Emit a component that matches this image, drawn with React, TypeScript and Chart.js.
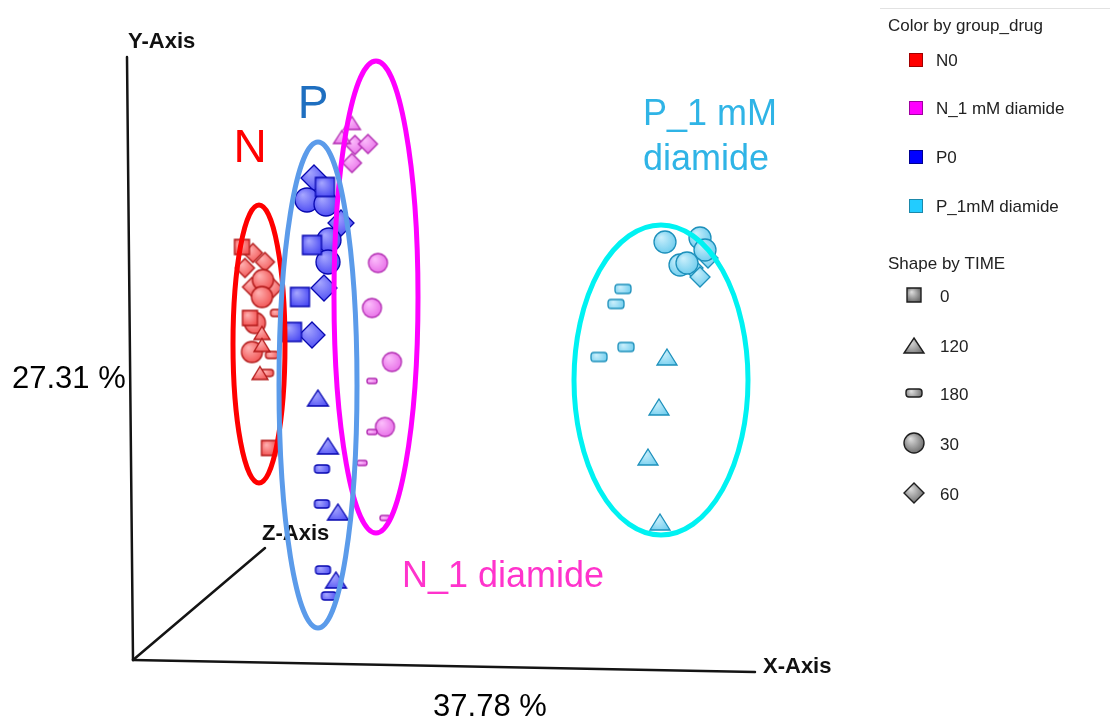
import React, { useEffect, useRef } from 'react';
import { Chart, registerables } from 'chart.js';

Chart.register(...registerables);

// ---- categories ----
const groupNames = ['N0', 'N_1 mM diamide', 'P0', 'P_1mM diamide'];
const timeNames = ['0', '120', '180', '30', '60'];

// ---- PCA scores [PC1, PC2] ----
const N0_T0 = [[10.9, 41.3], [11.7, 34.2], [13.6, 21.2]];
const N0_T120 = [[12.9, 32.7], [12.9, 31.5], [12.7, 28.7]];
const N0_T180 = [[14.4, 34.7], [13.9, 30.5], [13.4, 28.7]];
const N0_T30 = [[13.0, 38.0], [12.9, 36.3], [12.2, 33.7], [11.9, 30.8]];
const N0_T60 = [[12.0, 40.7], [13.2, 39.8], [11.2, 39.2], [11.9, 37.3], [14.0, 37.2]];

const N1_T0: number[][] = [];
const N1_T120 = [[21.9, 53.7], [20.9, 52.3]];
const N1_T180 = [[23.9, 27.9], [23.9, 22.8], [22.9, 19.7], [25.2, 14.2]];
const N1_T30 = [[24.5, 39.7], [23.9, 35.2], [25.9, 29.8], [25.2, 23.3]];
const N1_T60 = [[22.2, 51.5], [23.5, 51.6], [21.9, 49.7]];

const P0_T0 = [[19.2, 47.3], [17.9, 41.5], [16.7, 36.3], [15.9, 32.8]];
const P0_T120 = [[18.5, 26.2], [19.5, 21.4], [20.5, 14.8], [20.3, 8.0]];
const P0_T180 = [[18.9, 19.1], [18.9, 15.6], [19.0, 9.0], [19.6, 6.4]];
const P0_T30 = [[17.4, 46.0], [19.3, 45.6], [19.6, 42.0], [19.5, 39.8]];
const P0_T60 = [[18.1, 48.2], [20.8, 43.7], [19.1, 37.2], [17.9, 32.5]];

const P1_T0: number[][] = [];
const P1_T120 = [[53.4, 30.3], [52.6, 25.3], [51.5, 20.3], [52.7, 13.8]];
const P1_T180 = [[49.0, 37.1], [48.3, 35.6], [49.3, 31.3], [46.6, 30.3]];
const P1_T30 = [[53.2, 41.8], [56.7, 42.2], [57.2, 41.0], [54.7, 39.5], [55.4, 39.7]];
const P1_T60 = [[56.0, 39.2], [57.5, 40.2], [56.7, 38.3]];

const seriesByGroup = [
  [N0_T0, N0_T120, N0_T180, N0_T30, N0_T60],
  [N1_T0, N1_T120, N1_T180, N1_T30, N1_T60],
  [P0_T0, P0_T120, P0_T180, P0_T30, P0_T60],
  [P1_T0, P1_T120, P1_T180, P1_T30, P1_T60],
];

// ---- styles ----
const groupColors = [
  { light: '#ffb4b4', base: '#ee3a3a', border: '#b01818', swatch: '#ff0000', swBorder: '#a00000' },
  { light: '#fcc0fc', base: '#e35ae3', border: '#b02ab0', swatch: '#ff00ff', swBorder: '#a000a0' },
  { light: '#a8a8ff', base: '#3434f0', border: '#0808b0', swatch: '#0000ff', swBorder: '#000090' },
  { light: '#cdf0fc', base: '#55c3ea', border: '#1d90bb', swatch: '#22ccff', swBorder: '#1b88aa' },
];
const timeShapes = ['square', 'triangle', 'rect', 'circle', 'diamond'];
// marker sizes [w, h] per group per time (depth effect of the 3D view)
const markerSizes = [
  [[15, 15], [16, 13], [13, 7], [21, 21], [19, 19]],
  [[14, 14], [17, 13], [10, 5], [19, 19], [19, 19]],
  [[19, 19], [21, 16], [15, 8], [24, 24], [26, 26]],
  [[16, 16], [20, 16], [16, 9], [22, 22], [20, 20]],
];

// annotations (data units)
const ellipses = [
  { cx: 12.6, cy: 31.6, rx: 2.6, ry: 13.9, color: '#ff0000' },
  { cx: 24.3, cy: 36.3, rx: 4.2, ry: 23.6, color: '#ff00ff' },
  { cx: 18.5, cy: 27.5, rx: 3.9, ry: 24.3, color: '#5b9bea' },
  { cx: 52.8, cy: 28.0, rx: 8.7, ry: 15.5, color: '#00f2f2' },
];
const groupLabels = [
  { text: 'N', x: 11.7, y: 49.8, color: '#ff0000', size: 46, align: 'center' },
  { text: 'P', x: 18.0, y: 54.2, color: '#1f6fc0', size: 46, align: 'center' },
  { text: 'P_1 mM', x: 51.0, y: 53.5, color: '#2fb4e6', size: 36, align: 'left' },
  { text: 'diamide', x: 51.0, y: 49.0, color: '#2fb4e6', size: 36, align: 'left' },
  { text: 'N_1 diamide', x: 37.0, y: 7.3, color: '#ff33cc', size: 36, align: 'center' },
];
const axisOrigin = [0, 0];
const axisEnds = { y: [-0.6, 60.3], x: [62.2, -1.2], z: [13.2, 11.2] };

function makeMarker(shape: string, w: number, h: number, col: any, lw = 1.3) {
  const pad = 2;
  const c = document.createElement('canvas');
  c.width = Math.ceil(w + pad * 2);
  c.height = Math.ceil(h + pad * 2);
  const ctx = c.getContext('2d')!;
  const cx = c.width / 2;
  const cy = c.height / 2;
  ctx.beginPath();
  if (shape === 'square') {
    ctx.rect(cx - w / 2, cy - h / 2, w, h);
  } else if (shape === 'rect') {
    const r = Math.min(h / 2.4, 3);
    const x0 = cx - w / 2, y0 = cy - h / 2;
    ctx.moveTo(x0 + r, y0);
    ctx.lineTo(x0 + w - r, y0);
    ctx.quadraticCurveTo(x0 + w, y0, x0 + w, y0 + r);
    ctx.lineTo(x0 + w, y0 + h - r);
    ctx.quadraticCurveTo(x0 + w, y0 + h, x0 + w - r, y0 + h);
    ctx.lineTo(x0 + r, y0 + h);
    ctx.quadraticCurveTo(x0, y0 + h, x0, y0 + h - r);
    ctx.lineTo(x0, y0 + r);
    ctx.quadraticCurveTo(x0, y0, x0 + r, y0);
    ctx.closePath();
  } else if (shape === 'circle') {
    ctx.arc(cx, cy, w / 2, 0, Math.PI * 2);
  } else if (shape === 'diamond') {
    ctx.moveTo(cx, cy - h / 2);
    ctx.lineTo(cx + w / 2, cy);
    ctx.lineTo(cx, cy + h / 2);
    ctx.lineTo(cx - w / 2, cy);
    ctx.closePath();
  } else {
    ctx.moveTo(cx, cy - h / 2);
    ctx.lineTo(cx + w / 2, cy + h / 2);
    ctx.lineTo(cx - w / 2, cy + h / 2);
    ctx.closePath();
  }
  const g = ctx.createRadialGradient(cx - w * 0.18, cy - h * 0.22, 0, cx, cy, Math.max(w, h) * 0.75);
  g.addColorStop(0, col.light);
  g.addColorStop(1, col.base);
  ctx.fillStyle = g;
  ctx.fill();
  ctx.lineWidth = lw;
  ctx.strokeStyle = col.border;
  ctx.stroke();
  return c;
}

const decorPlugin = {
  id: 'decor',
  beforeDatasetsDraw(chart: any) {
    const { ctx, scales } = chart;
    const xs = scales.x, ys = scales.y;
    const P = (p: number[]) => [xs.getPixelForValue(p[0]), ys.getPixelForValue(p[1])];
    ctx.save();
    ctx.strokeStyle = '#141414';
    ctx.lineWidth = 2.5;
    ctx.lineCap = 'round';
    const o = P(axisOrigin);
    [axisEnds.y, axisEnds.x, axisEnds.z].forEach((e) => {
      const q = P(e);
      ctx.beginPath();
      ctx.moveTo(o[0], o[1]);
      ctx.lineTo(q[0], q[1]);
      ctx.stroke();
    });
    // axis titles
    ctx.fillStyle = '#111';
    ctx.font = 'bold 22px "Liberation Sans", Arial, sans-serif';
    ctx.textAlign = 'left';
    ctx.textBaseline = 'alphabetic';
    ctx.fillText('Y-Axis', 128, 48);
    ctx.fillText('Z-Axis', 262, 540);
    ctx.fillText('X-Axis', 763, 673);
    ctx.font = '31px "Liberation Sans", Arial, sans-serif';
    ctx.fillStyle = '#000';
    ctx.fillText('27.31 %', 12, 388);
    ctx.textAlign = 'center';
    ctx.fillText('37.78 %', 490, 716);
    ctx.restore();
  },
  afterDatasetsDraw(chart: any) {
    const { ctx, scales } = chart;
    const xs = scales.x, ys = scales.y;
    ctx.save();
    ellipses.forEach((e) => {
      const cx = xs.getPixelForValue(e.cx);
      const cy = ys.getPixelForValue(e.cy);
      const rx = Math.abs(xs.getPixelForValue(e.cx + e.rx) - cx);
      const ry = Math.abs(ys.getPixelForValue(e.cy + e.ry) - cy);
      ctx.beginPath();
      ctx.ellipse(cx, cy, rx, ry, 0, 0, Math.PI * 2);
      ctx.strokeStyle = e.color;
      ctx.lineWidth = 5;
      ctx.stroke();
    });
    groupLabels.forEach((l) => {
      ctx.font = l.size + 'px "Liberation Sans", Arial, sans-serif';
      ctx.fillStyle = l.color;
      ctx.textAlign = l.align;
      ctx.textBaseline = 'alphabetic';
      ctx.fillText(l.text, xs.getPixelForValue(l.x), ys.getPixelForValue(l.y));
    });
    ctx.restore();
  },
  afterDraw(chart: any) {
    const { ctx } = chart;
    ctx.save();
    // legend box top line
    ctx.strokeStyle = '#e2e2e2';
    ctx.lineWidth = 1;
    ctx.beginPath();
    ctx.moveTo(880, 8.5);
    ctx.lineTo(1110, 8.5);
    ctx.stroke();
    ctx.fillStyle = '#222';
    ctx.font = '17px "Liberation Sans", Arial, sans-serif';
    ctx.textAlign = 'left';
    ctx.textBaseline = 'alphabetic';
    ctx.fillText('Color by group_drug', 888, 31);
    const swY = [60, 108, 157, 206];
    groupNames.forEach((n, i) => {
      const c = groupColors[i];
      ctx.fillStyle = c.swatch;
      ctx.fillRect(909, swY[i] - 7, 14, 14);
      ctx.strokeStyle = c.swBorder;
      ctx.lineWidth = 1;
      ctx.strokeRect(909.5, swY[i] - 6.5, 13, 13);
      ctx.fillStyle = '#222';
      ctx.fillText(n, 936, swY[i] + 6);
    });
    ctx.fillText('Shape by TIME', 888, 269);
    const grey = { light: '#e0e0e0', base: '#4a4a4a', border: '#1e1e1e' };
    const legSizes = [[14, 14], [20, 15], [16, 8], [20, 20], [20, 20]];
    const shY = [295, 345, 393, 443, 493];
    timeNames.forEach((t, i) => {
      const m = makeMarker(timeShapes[i], legSizes[i][0], legSizes[i][1], grey, 1.4);
      ctx.drawImage(m, Math.round(914 - m.width / 2), Math.round(shY[i] - m.height / 2));
      ctx.fillStyle = '#222';
      ctx.fillText(t, 940, shY[i] + 7);
    });
    ctx.restore();
  },
};

export default function App() {
  const ref = useRef<HTMLCanvasElement | null>(null);
  useEffect(() => {
    if (!ref.current) return;
    const datasets: any[] = [];
    seriesByGroup.forEach((series, gi) => {
      series.forEach((pts, ti) => {
        if (!pts.length) return;
        const [w, h] = markerSizes[gi][ti];
        datasets.push({
          label: groupNames[gi] + ' / ' + timeNames[ti],
          data: pts.map((p) => ({ x: p[0], y: p[1] })),
          pointStyle: makeMarker(timeShapes[ti], w, h, groupColors[gi]),
          pointRadius: 6,
          showLine: false,
        });
      });
    });
    const chart = new Chart(ref.current, {
      type: 'scatter',
      data: { datasets },
      options: {
        responsive: false,
        animation: false,
        devicePixelRatio: 1,
        events: [],
        layout: { padding: 0, autoPadding: false },
        plugins: { legend: { display: false }, tooltip: { enabled: false } },
        scales: {
          x: { type: 'linear', min: -13.3, max: 97.7, display: false },
          y: { type: 'linear', min: -5.8, max: 66.0, display: false },
        },
      },
      plugins: [decorPlugin],
    });
    return () => chart.destroy();
  }, []);
  return (
    <div style={{ position: 'fixed', left: 0, top: 0, width: 1110, height: 718, background: '#fff' }}>
      <canvas ref={ref} width={1110} height={718} style={{ display: 'block' }} />
    </div>
  );
}
